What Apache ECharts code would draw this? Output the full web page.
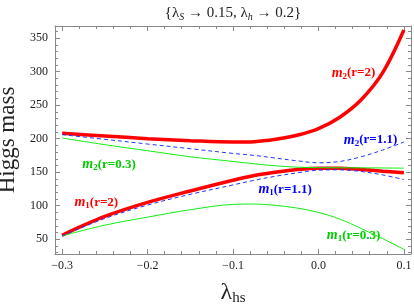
<!DOCTYPE html>
<html><head><meta charset="utf-8">
<script src="https://cdn.jsdelivr.net/npm/echarts@6/dist/echarts.min.js"></script>
<style>html,body{margin:0;padding:0;background:#fff}#c{width:414px;height:305px}</style>
</head><body><div id="c"></div>
<script>
const lambdaHs = [-0.3, -0.25, -0.2, -0.15, -0.1, -0.075, -0.05, -0.025, 0, 0.025, 0.05, 0.075, 0.1];
const m2_r2   = [208, 204, 200, 197, 195, 195.5, 199, 205, 215, 232, 258, 298, 362];
const m1_r2   = [56, 84, 105, 122, 138, 145, 150, 154, 156, 156, 154, 151.5, 149];
const m2_r11  = [206, 199, 192, 185, 178, 175, 171, 167, 164, 166, 173, 183, 195];
const m1_r11  = [55, 81, 101, 117, 131, 138, 144, 149, 153, 153.5, 151, 146, 139];
const m2_r03  = [201, 191, 182, 173, 166, 162.5, 159.5, 157.5, 156.8, 156.6, 156.5, 156.3, 156];
const m1_r03  = [55, 71, 83, 94, 102, 102.5, 100.5, 96.5, 90, 80, 66, 51, 35];

const xMajor = [-0.3, -0.2, -0.1, 0, 0.1];
const xMinor = [-0.28,-0.26,-0.24,-0.22,-0.18,-0.16,-0.14,-0.12,-0.08,-0.06,-0.04,-0.02,0.02,0.04,0.06,0.08];
const yMajor = [50, 100, 150, 200, 250, 300, 350];
const yMinor = [30,40,60,70,80,90,110,120,130,140,160,170,180,190,210,220,230,240,260,270,280,290,310,320,330,340,360];

// label anchors (data coords) and texts
const curveLabels = [
  {text: '{m|m}{s|2}{t|(r=2)}',   x: 0.041, y: 298, color: '#ff0000'},
  {text: '{m|m}{s|2}{t|(r=1.1)}', x: 0.061, y: 198, color: '#0000ff'},
  {text: '{m|m}{s|2}{t|(r=0.3)}', x: -0.245, y: 162, color: '#00cc00'},
  {text: '{m|m}{s|1}{t|(r=2)}',   x: -0.26, y: 105, color: '#ff0000'},
  {text: '{m|m}{s|1}{t|(r=1.1)}', x: -0.039, y: 124, color: '#0000ff'},
  {text: '{m|m}{s|1}{t|(r=0.3)}', x: 0.041, y: 56, color: '#00cc00'}
];

const FONT = '"Liberation Serif", "DejaVu Serif", serif';
const FRAME = '#888';
const X_MIN = -0.3083, X_MAX = 0.1083, Y_MIN = 28, Y_MAX = 368;

function xAxis(gridIndex, position, ticks, len, showLine, showLabel) {
  return {
    type: 'value', gridIndex, position, min: X_MIN, max: X_MAX,
    axisLine: {show: showLine, onZero: false, lineStyle: {color: FRAME, width: 1}},
    axisTick: {show: true, inside: true, length: len, customValues: ticks, lineStyle: {color: FRAME}},
    axisLabel: {show: showLabel, customValues: ticks, margin: 6, color: '#222', fontFamily: FONT, fontSize: 12,
      formatter: v => (Math.abs(v) < 1e-9 ? '0.0' : v.toFixed(1).replace('-', '\u2212'))},
    splitLine: {show: false}
  };
}
function yAxis(gridIndex, position, ticks, len, showLine, showLabel) {
  return {
    type: 'value', gridIndex, position, min: Y_MIN, max: Y_MAX,
    axisLine: {show: showLine, onZero: false, lineStyle: {color: FRAME, width: 1}},
    axisTick: {show: true, inside: true, length: len, customValues: ticks, lineStyle: {color: FRAME}},
    axisLabel: {show: showLabel, customValues: ticks, margin: 7, color: '#222', fontFamily: FONT, fontSize: 12},
    splitLine: {show: false}
  };
}

const xs = lambdaHs;
const pair = arr => xs.map((x, i) => [x, arr[i]]);

const chart = echarts.init(document.getElementById('c'), null, {renderer: 'canvas'});
const gridRect = {left: 55, right: 3, top: 26, bottom: 51, containLabel: false, outerBoundsMode: 'none'};

const xa0 = xAxis(0, 'bottom', xMajor, 5, true, true);
xa0.name = '{l|λ}{s|hs}';
xa0.nameLocation = 'middle';
xa0.nameGap = 26;
xa0.nameTextStyle = {fontFamily: FONT, fontSize: 22, color: '#222',
  rich: {l: {fontFamily: FONT, fontSize: 24, color: '#222', lineHeight: 26},
         s: {fontFamily: FONT, fontSize: 15, color: '#222', verticalAlign: 'bottom', lineHeight: 16}}};
const ya0 = yAxis(0, 'left', yMajor, 5, true, true);
ya0.name = 'Higgs mass';
ya0.nameLocation = 'middle';
ya0.nameGap = 30;
ya0.nameTextStyle = {fontFamily: FONT, fontSize: 23, color: '#222'};

function lineSeries(name, data, color, width, dashed) {
  return {
    type: 'line', name, data: pair(data), xAxisIndex: 0, yAxisIndex: 0,
    showSymbol: false, symbol: 'none', smooth: 0.35, animation: false,
    lineStyle: {color, width, type: dashed ? [4, 3] : 'solid'}
  };
}

chart.setOption({
  animation: false,
  grid: [Object.assign({}, gridRect), Object.assign({}, gridRect)],
  xAxis: [
    xa0,
    xAxis(0, 'top', xMajor, 5, true, false),
    xAxis(1, 'bottom', xMinor, 3, false, false),
    xAxis(1, 'top', xMinor, 3, false, false)
  ],
  yAxis: [
    ya0,
    yAxis(0, 'right', yMajor, 5, true, false),
    yAxis(1, 'left', yMinor, 3, false, false),
    yAxis(1, 'right', yMinor, 3, false, false)
  ],
  series: [
    lineSeries('m2 r=2', m2_r2, '#ff0000', 3.5, false),
    lineSeries('m1 r=2', m1_r2, '#ff0000', 3.5, false),
    lineSeries('m2 r=0.3', m2_r03, '#11ee11', 1, false),
    lineSeries('m1 r=0.3', m1_r03, '#11ee11', 1, false),
    lineSeries('m2 r=1.1', m2_r11, '#2233ff', 1, true),
    lineSeries('m1 r=1.1', m1_r11, '#2233ff', 1, true)
  ]
});

const graphics = [];
const titleRich = {
  a: {fontFamily: FONT, fontSize: 15, color: '#222', lineHeight: 18},
  l: {fontFamily: FONT, fontSize: 15, color: '#222', lineHeight: 18},
  s: {fontFamily: FONT, fontSize: 10, fontStyle: 'italic', color: '#222', verticalAlign: 'bottom', lineHeight: 10}
};
const titleX = chart.convertToPixel({xAxisIndex: 0}, (X_MIN + X_MAX) / 2);
graphics.push({
  type: 'text', x: titleX, y: 13,
  style: {text: '{a|{}{l|λ}{s|S}{a| \u2192 0.15, }{l|λ}{s|h}{a| \u2192 0.2}}', align: 'center', verticalAlign: 'middle',
    font: '15px ' + FONT, fill: '#222', rich: titleRich}
});
curveLabels.forEach(lb => {
  const p = chart.convertToPixel({xAxisIndex: 0, yAxisIndex: 0}, [lb.x, lb.y]);
  graphics.push({
    type: 'text', x: p[0], y: p[1],
    style: {text: lb.text, align: 'center', verticalAlign: 'middle', fill: lb.color,
      font: 'bold 13px ' + FONT,
      rich: {
        m: {fontFamily: FONT, fontSize: 14, fontWeight: 'bold', fontStyle: 'italic', color: lb.color, lineHeight: 16},
        s: {fontFamily: FONT, fontSize: 9, fontWeight: 'bold', color: lb.color, verticalAlign: 'bottom', lineHeight: 10},
        t: {fontFamily: FONT, fontSize: 13, fontWeight: 'bold', color: lb.color, lineHeight: 16}
      }}
  });
});
chart.setOption({graphic: graphics});
</script>
</body></html>
